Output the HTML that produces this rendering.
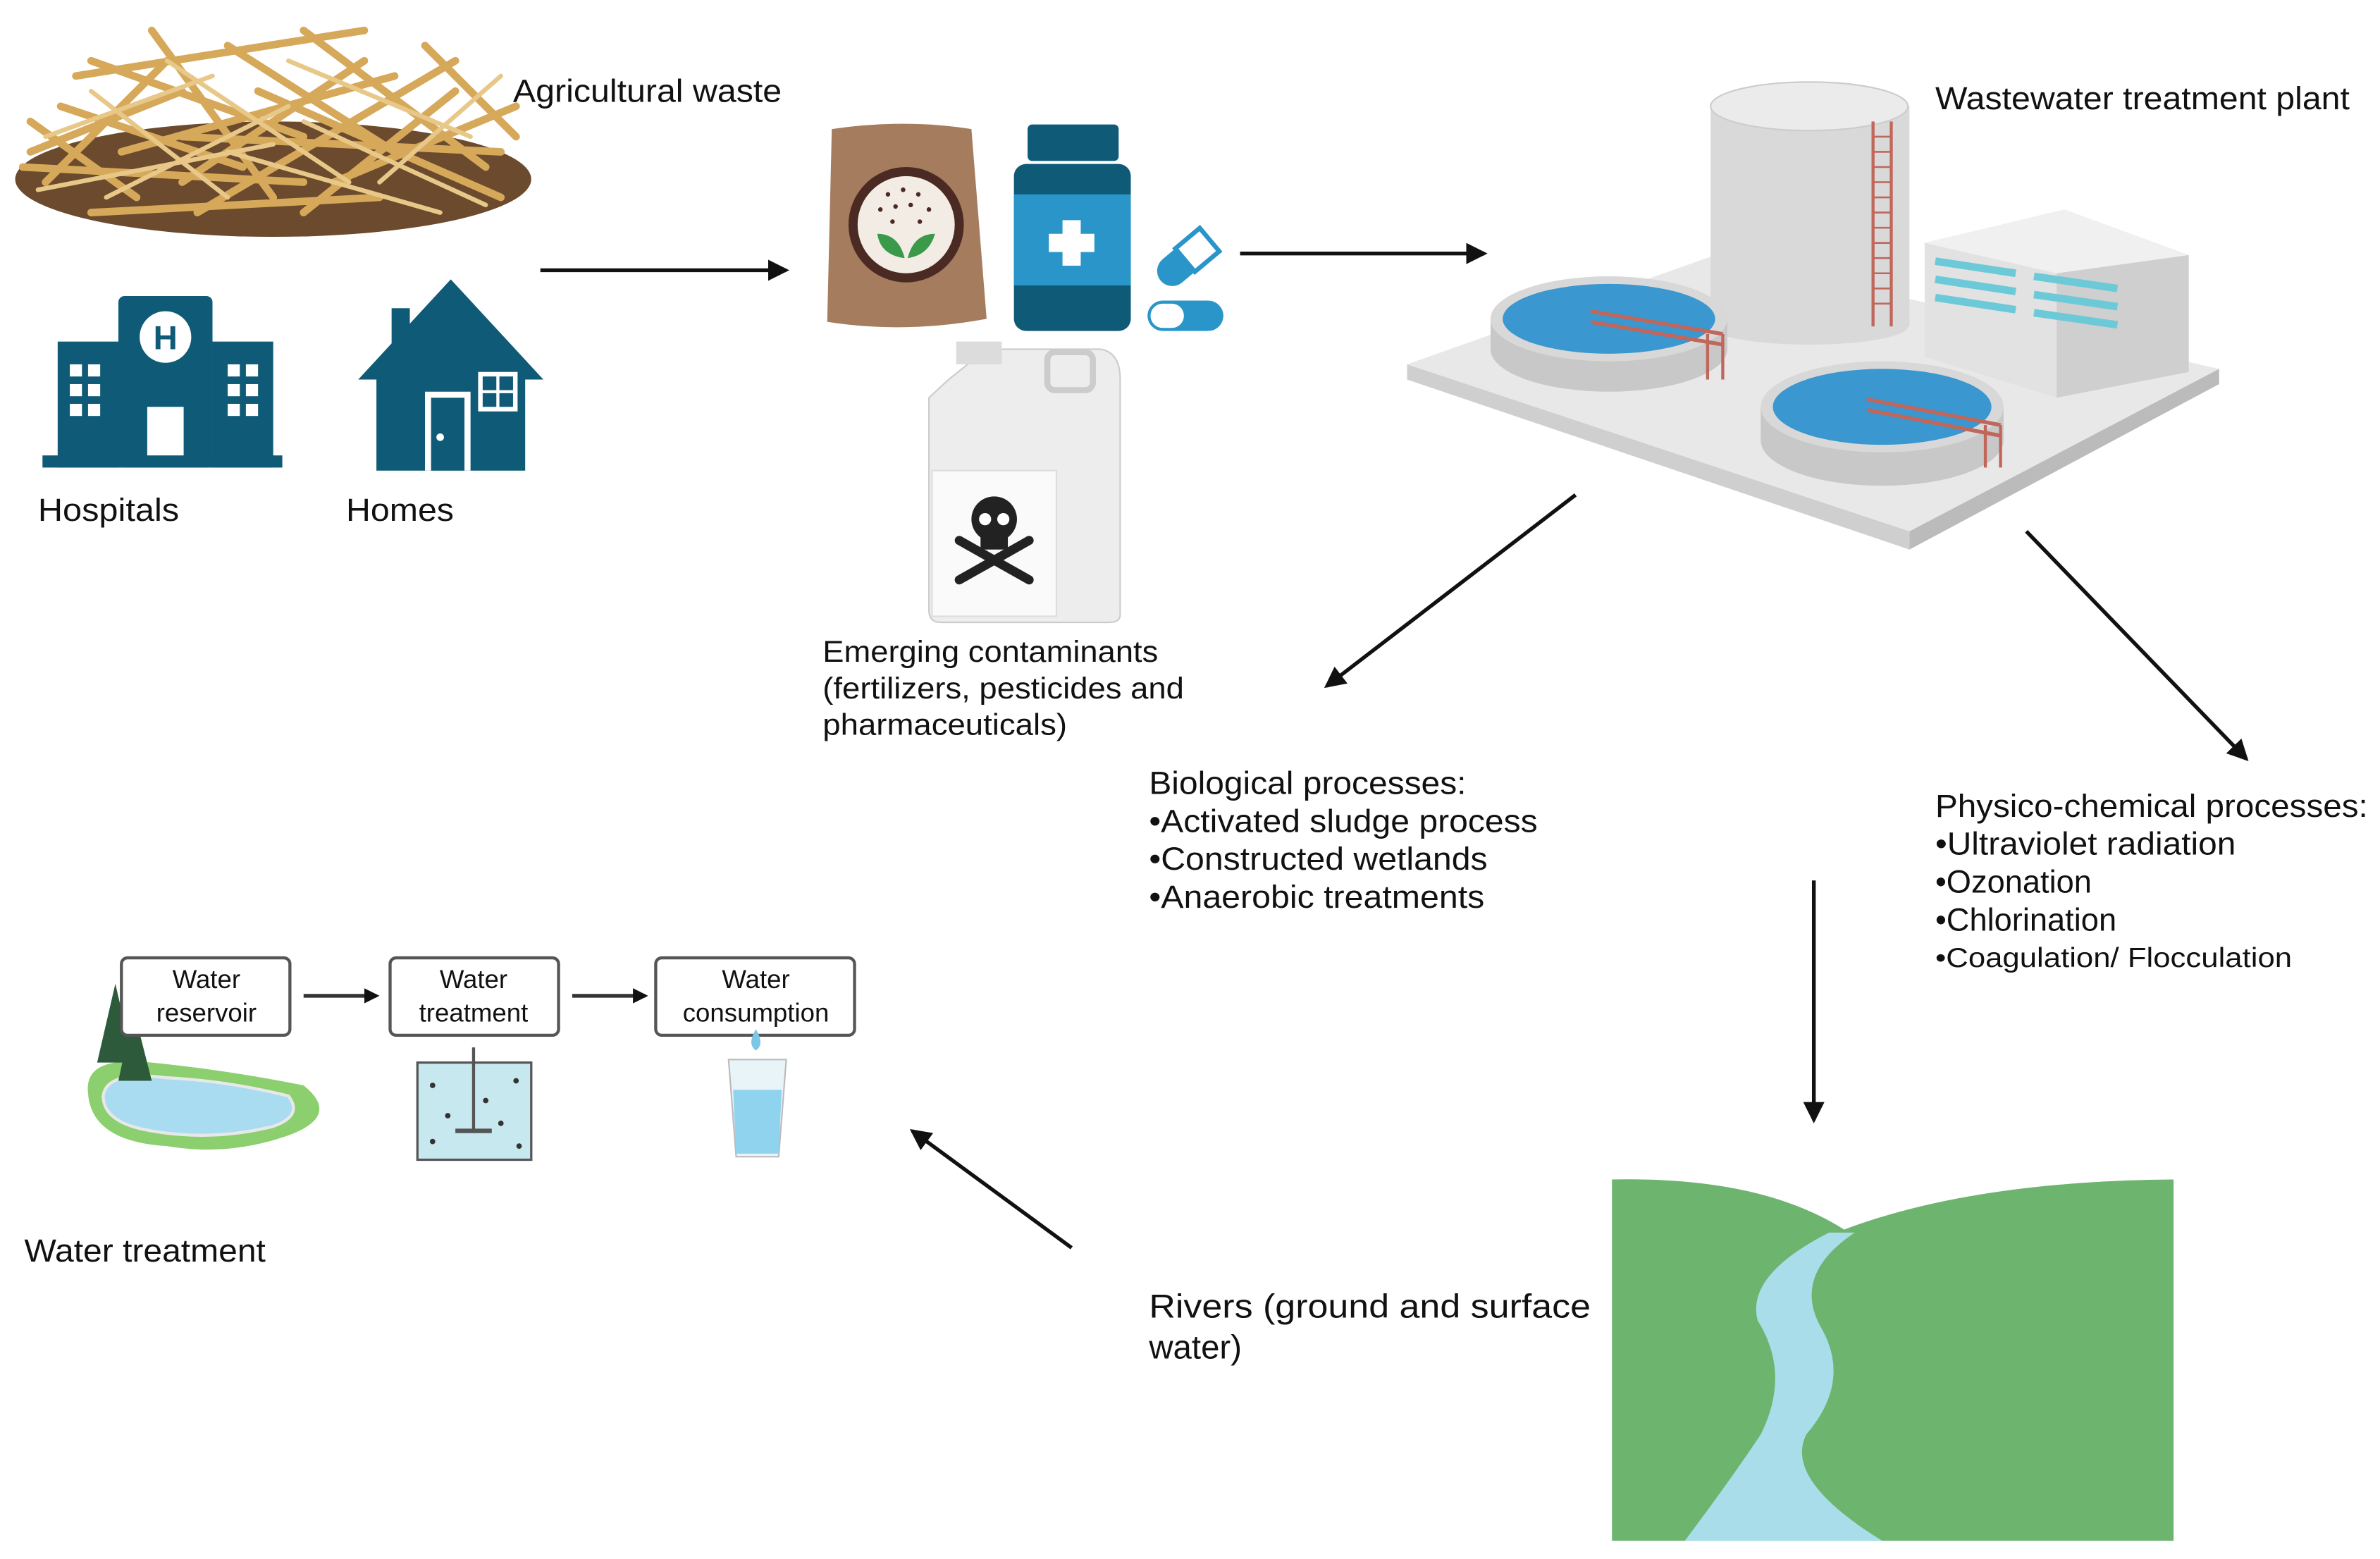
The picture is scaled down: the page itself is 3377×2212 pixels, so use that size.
<!DOCTYPE html>
<html><head><meta charset="utf-8"><style>
html,body{margin:0;padding:0;background:#fff;}
svg{display:block}
text{font-family:"Liberation Sans",sans-serif;fill:#111;}
</style></head><body>
<svg width="3377" height="2212" viewBox="0 0 1568 1027" xmlns="http://www.w3.org/2000/svg">
<defs>
<marker id="ah" markerWidth="10" markerHeight="10" refX="8" refY="5" orient="auto" markerUnits="userSpaceOnUse">
<path d="M0,0 L10,5 L0,10 Z" fill="#111"/></marker>
<marker id="ah2" markerWidth="14" markerHeight="14" refX="12" refY="7" orient="auto" markerUnits="userSpaceOnUse">
<path d="M0,0 L14,7 L0,14 Z" fill="#111"/></marker>
</defs>
<rect width="1568" height="1027" fill="#fff"/>

<!-- Agricultural waste -->
<ellipse cx="180" cy="118" rx="170" ry="38" fill="#6b4a2e"/>
<g stroke="#d6a85a" stroke-width="5" stroke-linecap="round" fill="none">
<path d="M20,100 L120,60 M40,70 L160,110 M60,40 L200,90 M100,20 L180,130 M150,30 L260,100 M200,20 L320,110 M240,40 L120,120 M280,30 L340,90 M30,120 L110,40 M300,60 L200,140 M80,100 L260,50 M170,60 L330,130 M50,50 L240,20 M130,140 L300,40 M220,120 L340,70 M20,80 L90,130 M15,110 L200,120 M120,90 L330,100 M60,140 L250,130"/>
</g>
<g stroke="#e8c888" stroke-width="3" stroke-linecap="round" fill="none">
<path d="M30,90 L140,50 M70,130 L190,70 M110,40 L230,120 M190,40 L310,90 M250,120 L330,50 M150,100 L290,140 M60,60 L150,130 M25,125 L180,95 M200,80 L320,135"/>
</g>
<text x="338" y="67" font-size="21" textLength="177" lengthAdjust="spacingAndGlyphs">Agricultural waste</text>

<!-- Hospital -->
<g fill="#0f5a77">
<rect x="38" y="225" width="40" height="83"/>
<rect x="140" y="225" width="40" height="83"/>
<rect x="78" y="195" width="62" height="113" rx="4"/>
<rect x="28" y="300" width="158" height="8"/>
</g>
<circle cx="109" cy="222" r="17" fill="#fff"/>
<text x="109" y="230" font-size="22" font-weight="bold" text-anchor="middle" style="fill:#0f5a77">H</text>
<rect x="97" y="268" width="24" height="32" fill="#fff"/>
<g fill="#fff">
<rect x="46" y="240" width="8" height="8"/><rect x="58" y="240" width="8" height="8"/>
<rect x="46" y="253" width="8" height="8"/><rect x="58" y="253" width="8" height="8"/>
<rect x="46" y="266" width="8" height="8"/><rect x="58" y="266" width="8" height="8"/>
<rect x="150" y="240" width="8" height="8"/><rect x="162" y="240" width="8" height="8"/>
<rect x="150" y="253" width="8" height="8"/><rect x="162" y="253" width="8" height="8"/>
<rect x="150" y="266" width="8" height="8"/><rect x="162" y="266" width="8" height="8"/>
</g>
<text x="25" y="343" font-size="21" textLength="93" lengthAdjust="spacingAndGlyphs">Hospitals</text>

<!-- Home -->
<path d="M236,250 L297,184 L358,250 L346,250 L346,310 L248,310 L248,250 Z" fill="#0f5a77"/>
<rect x="258" y="203" width="12" height="28" fill="#0f5a77"/>
<rect x="280" y="258" width="30" height="52" fill="#fff"/><rect x="284" y="262" width="22" height="48" fill="#0f5a77"/>
<circle cx="290" cy="288" r="2.5" fill="#fff"/>
<rect x="315" y="245" width="26" height="26" fill="#fff"/>
<g fill="#0f5a77"><rect x="318" y="248" width="9" height="9"/><rect x="329" y="248" width="9" height="9"/><rect x="318" y="259" width="9" height="9"/><rect x="329" y="259" width="9" height="9"/></g>
<text x="228" y="343" font-size="21" textLength="71" lengthAdjust="spacingAndGlyphs">Homes</text>

<line x1="356" y1="178" x2="518" y2="178" stroke="#111" stroke-width="2.5" marker-end="url(#ah2)"/>

<!-- Bag -->
<path d="M548,85 Q596,78 640,85 L650,210 Q596,220 545,212 Z" fill="#a67c5f"/>
<circle cx="597" cy="148" r="38" fill="#4a2a22"/>
<circle cx="597" cy="148" r="32" fill="#f3ece4"/>
<g fill="#4a2a22"><circle cx="585" cy="128" r="1.5"/><circle cx="595" cy="125" r="1.5"/><circle cx="605" cy="128" r="1.5"/><circle cx="580" cy="138" r="1.5"/><circle cx="590" cy="136" r="1.5"/><circle cx="600" cy="135" r="1.5"/><circle cx="612" cy="138" r="1.5"/><circle cx="588" cy="146" r="1.5"/><circle cx="606" cy="146" r="1.5"/></g>
<path d="M596,170 Q580,168 578,154 Q592,154 596,170 Z M598,170 Q612,168 616,154 Q602,154 598,170 Z" fill="#3a9a4a"/>
<!-- Bottle -->
<rect x="677" y="82" width="60" height="24" rx="3" fill="#0f5a77"/>
<rect x="668" y="108" width="77" height="110" rx="8" fill="#0f5a77"/>
<rect x="668" y="128" width="77" height="60" fill="#2a95c8"/>
<rect x="700" y="145" width="12" height="30" fill="#fff"/><rect x="691" y="154" width="30" height="12" fill="#fff"/>
<!-- Pills -->
<g transform="rotate(-40 780 172)"><rect x="760" y="162" width="42" height="20" rx="10" fill="#2a95c8"/><rect x="781" y="162" width="21" height="20" rx="0" fill="#fff" stroke="#2a95c8" stroke-width="3"/></g>
<rect x="756" y="198" width="50" height="20" rx="10" fill="#2a95c8"/><rect x="758" y="200" width="22" height="16" rx="8" fill="#fff"/>
<!-- Jerrycan -->
<path d="M625,250 L650,230 L725,230 Q738,232 738,250 L738,405 Q738,410 730,410 L620,410 Q612,410 612,402 L612,262 Z" fill="#ededed" stroke="#ccc"/>
<rect x="630" y="225" width="30" height="15" fill="#dcdcdc"/>
<rect x="690" y="232" width="30" height="25" rx="5" fill="none" stroke="#ccc" stroke-width="4"/>
<rect x="614" y="310" width="82" height="96" fill="#fafafa" stroke="#ddd"/>
<circle cx="655" cy="342" r="15" fill="#222"/>
<rect x="646" y="352" width="18" height="10" fill="#222"/>
<circle cx="649" cy="342" r="4" fill="#fff"/><circle cx="661" cy="342" r="4" fill="#fff"/>
<path d="M632,356 L678,382 M678,356 L632,382" stroke="#222" stroke-width="6" stroke-linecap="round"/>
<text font-size="20"><tspan x="542" y="436" textLength="221" lengthAdjust="spacingAndGlyphs">Emerging contaminants</tspan><tspan x="542" y="460" textLength="238" lengthAdjust="spacingAndGlyphs">(fertilizers, pesticides and</tspan><tspan x="542" y="484" textLength="161" lengthAdjust="spacingAndGlyphs">pharmaceuticals)</tspan></text>

<line x1="817" y1="167" x2="978" y2="167" stroke="#111" stroke-width="2.5" marker-end="url(#ah2)"/>

<!-- WWTP -->
<path d="M927,240 L1130,168 L1462,243 L1258,350 Z" fill="#e8e8e8"/>
<path d="M927,240 L1258,350 L1258,362 L927,250 Z" fill="#cfcfcf"/>
<path d="M1258,350 L1462,243 L1462,253 L1258,362 Z" fill="#bbb"/>
<rect x="1127" y="70" width="131" height="145" fill="#d9d9d9"/>
<ellipse cx="1192" cy="215" rx="65" ry="12" fill="#d9d9d9"/>
<ellipse cx="1192" cy="70" rx="65" ry="16" fill="#ebebeb" stroke="#ccc"/>
<path d="M1234,80 L1234,215 M1246,80 L1246,215" stroke="#c0665a" stroke-width="2"/>
<path d="M1234,90 H1246 M1234,100 H1246 M1234,110 H1246 M1234,120 H1246 M1234,130 H1246 M1234,140 H1246 M1234,150 H1246 M1234,160 H1246 M1234,170 H1246 M1234,180 H1246 M1234,190 H1246 M1234,200 H1246" stroke="#c0665a" stroke-width="1.2"/>
<path d="M1268,160 L1360,138 L1442,168 L1442,245 L1355,262 L1268,235 Z" fill="#e2e2e2"/>
<path d="M1355,180 L1442,168 L1442,245 L1355,262 Z" fill="#cfcfcf"/>
<path d="M1268,160 L1360,138 L1442,168 L1355,180 Z" fill="#f0f0f0"/>
<g stroke="#6ccad8" stroke-width="5"><line x1="1275" y1="172" x2="1328" y2="180"/><line x1="1275" y1="184" x2="1328" y2="192"/><line x1="1275" y1="196" x2="1328" y2="204"/><line x1="1340" y1="182" x2="1395" y2="190"/><line x1="1340" y1="194" x2="1395" y2="202"/><line x1="1340" y1="206" x2="1395" y2="214"/></g>
<ellipse cx="1060" cy="230" rx="78" ry="28" fill="#c8c8c8"/>
<rect x="982" y="210" width="156" height="20" fill="#c8c8c8"/>
<ellipse cx="1060" cy="210" rx="78" ry="28" fill="#d8d8d8"/>
<ellipse cx="1060" cy="210" rx="70" ry="23" fill="#3a97cf"/>
<ellipse cx="1240" cy="290" rx="80" ry="30" fill="#c8c8c8"/>
<rect x="1160" y="268" width="160" height="22" fill="#c8c8c8"/>
<ellipse cx="1240" cy="268" rx="80" ry="30" fill="#d8d8d8"/>
<ellipse cx="1240" cy="268" rx="72" ry="25" fill="#3a97cf"/>
<path d="M1048,205 L1135,220 M1048,212 L1135,227 M1230,263 L1318,280 M1230,270 L1318,287" stroke="#c0665a" stroke-width="2.5"/>
<path d="M1125,220 L1125,250 M1135,220 L1135,250 M1308,280 L1308,308 M1318,280 L1318,308" stroke="#c0665a" stroke-width="2"/>
<text x="1275" y="72" font-size="21" textLength="273" lengthAdjust="spacingAndGlyphs">Wastewater treatment plant</text>

<line x1="1038" y1="326" x2="874" y2="452" stroke="#111" stroke-width="2.5" marker-end="url(#ah2)"/>
<line x1="1335" y1="350" x2="1480" y2="500" stroke="#111" stroke-width="2.5" marker-end="url(#ah2)"/>

<text font-size="21"><tspan x="757" y="523" textLength="209" lengthAdjust="spacingAndGlyphs">Biological processes:</tspan><tspan x="757" y="548" textLength="256" lengthAdjust="spacingAndGlyphs">•Activated sludge process</tspan><tspan x="757" y="573" textLength="223" lengthAdjust="spacingAndGlyphs">•Constructed wetlands</tspan><tspan x="757" y="598" textLength="221" lengthAdjust="spacingAndGlyphs">•Anaerobic treatments</tspan></text>
<text font-size="21"><tspan x="1275" y="538" textLength="285" lengthAdjust="spacingAndGlyphs">Physico-chemical processes:</tspan><tspan x="1275" y="563" textLength="198" lengthAdjust="spacingAndGlyphs">•Ultraviolet radiation</tspan><tspan x="1275" y="588">•Ozonation</tspan><tspan x="1275" y="613">•Chlorination</tspan><tspan x="1275" y="637" font-size="18" textLength="235" lengthAdjust="spacingAndGlyphs">•Coagulation/ Flocculation</tspan></text>

<line x1="1195" y1="580" x2="1195" y2="738" stroke="#111" stroke-width="2.5" marker-end="url(#ah2)"/>

<!-- River -->
<path d="M1062,777 Q1160,775 1215,810 Q1300,778 1432,777 L1432,1015 L1062,1015 Z" fill="#6db46f"/>
<path d="M1205,812 L1222,812 Q1180,840 1200,875 Q1220,910 1190,945 Q1175,975 1240,1015 L1110,1015 Q1140,975 1160,945 Q1180,905 1158,870 Q1150,840 1205,812 Z" fill="#a8dde9"/>
<text font-size="22"><tspan x="757" y="868" textLength="291" lengthAdjust="spacingAndGlyphs">Rivers (ground and surface</tspan><tspan x="757" y="895">water)</tspan></text>

<line x1="706" y1="822" x2="601" y2="745" stroke="#111" stroke-width="2.5" marker-end="url(#ah2)"/>

<!-- Water treatment -->
<path d="M58,720 Q55,695 100,700 Q150,705 200,715 Q225,735 190,748 Q150,762 110,755 Q60,752 58,720 Z" fill="#8ccf6e"/>
<path d="M68,722 Q70,705 110,710 Q150,712 190,722 Q200,735 180,742 Q140,752 100,745 Q68,740 68,722 Z" fill="#a9dcf0" stroke="#e8e8e8" stroke-width="2"/>
<path d="M76,648 L64,700 L88,700 Z M88,665 L78,712 L100,712 Z" fill="#2d5a3a"/>
<rect x="80" y="631" width="111" height="51" rx="4" fill="#fff" stroke="#555" stroke-width="2"/>
<text x="136" y="651" font-size="17" text-anchor="middle">Water</text><text x="136" y="673" font-size="17" text-anchor="middle">reservoir</text>
<line x1="200" y1="656" x2="248" y2="656" stroke="#333" stroke-width="2.5" marker-end="url(#ah)"/>
<rect x="257" y="631" width="111" height="51" rx="4" fill="#fff" stroke="#555" stroke-width="2"/>
<text x="312" y="651" font-size="17" text-anchor="middle">Water</text><text x="312" y="673" font-size="17" text-anchor="middle">treatment</text>
<rect x="275" y="700" width="75" height="64" fill="#c8e8ef" stroke="#555" stroke-width="1.5"/>
<line x1="312" y1="690" x2="312" y2="745" stroke="#555" stroke-width="2"/>
<path d="M300,745 L324,745" stroke="#555" stroke-width="3"/>
<g fill="#333"><circle cx="285" cy="715" r="1.8"/><circle cx="340" cy="712" r="1.8"/><circle cx="295" cy="735" r="1.8"/><circle cx="330" cy="740" r="1.8"/><circle cx="285" cy="752" r="1.8"/><circle cx="342" cy="755" r="1.8"/><circle cx="320" cy="725" r="1.8"/></g>
<line x1="377" y1="656" x2="425" y2="656" stroke="#333" stroke-width="2.5" marker-end="url(#ah)"/>
<rect x="432" y="631" width="131" height="51" rx="4" fill="#fff" stroke="#555" stroke-width="2"/>
<text x="498" y="651" font-size="17" text-anchor="middle">Water</text><text x="498" y="673" font-size="17" text-anchor="middle">consumption</text>
<path d="M498,678 Q492,688 498,692 Q504,688 498,678 Z" fill="#7cc6e6"/>
<path d="M480,698 L518,698 L513,762 L485,762 Z" fill="#e8f4f8" stroke="#bbb"/>
<path d="M483,718 L515,718 L513,760 L485,760 Z" fill="#8fd3ee"/>
<text x="16" y="831" font-size="21" textLength="159" lengthAdjust="spacingAndGlyphs">Water treatment</text>
</svg>
</body></html>
